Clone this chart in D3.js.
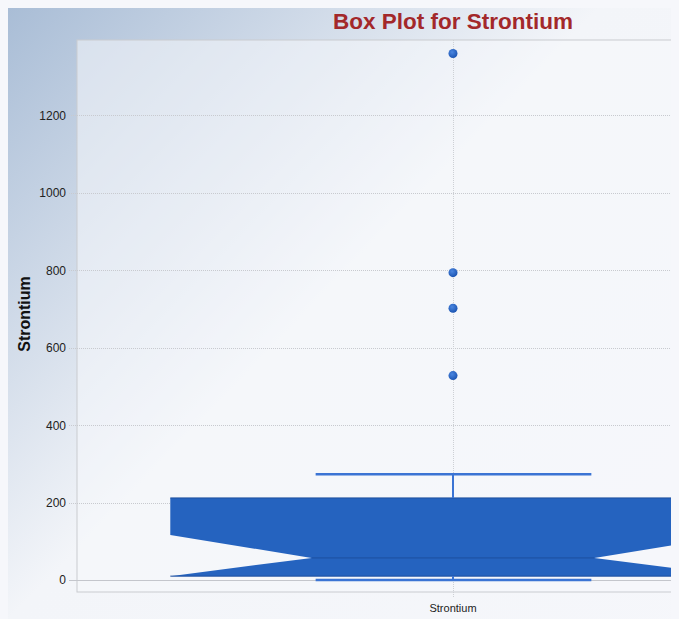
<!DOCTYPE html>
<html><head><meta charset="utf-8">
<script src="https://cdn.jsdelivr.net/npm/d3@7"></script>
<style>html,body{margin:0;padding:0;background:#f6f7fb;overflow:hidden}svg{display:block}</style>
</head><body>
<script>
// ---- data ----
const categories = ["Strontium"];
const q1 = [10];
const median = [57];
const q3 = [212];
const whiskerLow = [0];
const whiskerHigh = [273];
const notchLow = [-2];
const notchHigh = [116];
const outliers = [[528, 702, 794, 1360]];
const yTicks = [0, 200, 400, 600, 800, 1000, 1200];
const titleText = "Box Plot for Strontium";
const yLabel = "Strontium";

const W = 679, H = 619;
const svg = d3.select("body").append("svg").attr("width", W).attr("height", H);
const defs = svg.append("defs");

const bg = defs.append("linearGradient").attr("id", "bg").attr("x1", "0").attr("y1", "0").attr("x2", "1").attr("y2", "0.75");
bg.append("stop").attr("offset", "0").attr("stop-color", "#a9bdd6");
bg.append("stop").attr("offset", "0.42").attr("stop-color", "#f3f5f9");
bg.append("stop").attr("offset", "1").attr("stop-color", "#f6f7fb");

const rg = defs.append("radialGradient").attr("id", "pt").attr("cx", "0.4").attr("cy", "0.35").attr("r", "0.65");
rg.append("stop").attr("offset", "0").attr("stop-color", "#4a86e0");
rg.append("stop").attr("offset", "1").attr("stop-color", "#1c55b3");

defs.append("clipPath").attr("id", "panelClip").append("rect")
  .attr("x", 8).attr("y", 8).attr("width", 663).attr("height", H);

// panel (chart is wider than viewport, clipped at right)
const panel = svg.append("g").attr("clip-path", "url(#panelClip)");
panel.append("rect").attr("x", 8).attr("y", 8).attr("width", 900).attr("height", 700).attr("fill", "url(#bg)");

const m = {left: 77, top: 40, right: 829, bottom: 592};

const y = d3.scaleLinear().domain([-31, 1395]).range([m.bottom, m.top]);
const x = d3.scaleBand().domain(categories).range([m.left, m.right]).paddingInner(0).paddingOuter(0.165);

// plot background
panel.append("rect").attr("x", m.left).attr("y", m.top).attr("width", m.right - m.left).attr("height", m.bottom - m.top)
  .attr("fill", "#f6f7fb").attr("fill-opacity", 0.55).attr("stroke", "#c9cbd0");

// y grid + ticks
const yAxis = d3.axisLeft(y).tickValues(yTicks).tickFormat(d3.format("d")).tickSize(0).tickPadding(11);
const ga = panel.append("g").attr("transform", `translate(${m.left},0)`).call(yAxis);
ga.select(".domain").remove();
ga.selectAll("text").attr("font-family", "Liberation Sans, Arial, sans-serif").attr("font-size", 12).attr("fill", "#222");

panel.append("g").selectAll("line").data(yTicks).join("line")
  .attr("x1", m.left - 8).attr("x2", m.right).attr("y1", d => Math.round(y(d)) + 0.5).attr("y2", d => Math.round(y(d)) + 0.5)
  .attr("stroke", d => d === 0 ? "#c4c6cc" : "#c8cacf")
  .attr("stroke-dasharray", d => d === 0 ? null : "1,1");
panel.append("line").attr("x1", m.left).attr("x2", m.right).attr("y1", Math.round(y(0)) + 0.5).attr("y2", Math.round(y(0)) + 0.5)
  .attr("stroke", "#c4c6cc");

// x gridline + label
categories.forEach((c, i) => {
  const cx = x(c) + x.bandwidth() / 2;
  panel.append("line").attr("x1", cx + 0.5).attr("x2", cx + 0.5).attr("y1", m.top).attr("y2", m.bottom + 6)
    .attr("stroke", "#cdd0d5").attr("stroke-dasharray", "1,1");
});
const xAxis = d3.axisBottom(x).tickSize(0).tickPadding(12);
const gx = panel.append("g").attr("transform", `translate(0,${m.bottom})`).call(xAxis);
gx.select(".domain").remove();
gx.selectAll("text").attr("font-family", "Liberation Sans, Arial, sans-serif").attr("font-size", 11).attr("fill", "#222");

// boxes
const blue = "#2563bf";
categories.forEach((c, i) => {
  const bx0 = x(c), bx1 = x(c) + x.bandwidth(), cx = (bx0 + bx1) / 2;
  const bw = bx1 - bx0;
  const nx0 = cx - bw / 4, nx1 = cx + bw / 4;
  const nLo = Math.max(notchLow[i], q1[i]), nHi = Math.min(notchHigh[i], q3[i]);
  const pts = [
    [bx0, y(q3[i])], [bx1, y(q3[i])], [bx1, y(nHi)], [nx1, y(median[i])], [bx1, y(nLo)],
    [bx1, y(q1[i])], [bx0, y(q1[i])], [bx0, y(nLo)], [nx0, y(median[i])], [bx0, y(nHi)]
  ];
  panel.append("path").attr("d", d3.line()(pts) + "Z").attr("fill", blue);
  panel.append("line").attr("x1", nx0).attr("x2", nx1).attr("y1", y(median[i])).attr("y2", y(median[i]))
    .attr("stroke", "#1d4f9e").attr("stroke-width", 1);
  panel.append("line").attr("x1", bx0).attr("x2", bx1).attr("y1", y(q3[i])).attr("y2", y(q3[i]))
    .attr("stroke", "#1d4f9e").attr("stroke-width", 1);
  panel.append("line").attr("x1", bx0).attr("x2", bx1).attr("y1", y(q1[i])).attr("y2", y(q1[i]))
    .attr("stroke", "#1d4f9e").attr("stroke-width", 1);
  // whiskers
  const wc = "#3b74d4";
  panel.append("line").attr("x1", cx).attr("x2", cx).attr("y1", y(q3[i])).attr("y2", y(whiskerHigh[i])).attr("stroke", wc).attr("stroke-width", 2);
  panel.append("line").attr("x1", cx).attr("x2", cx).attr("y1", y(q1[i])).attr("y2", y(whiskerLow[i])).attr("stroke", wc).attr("stroke-width", 2);
  panel.append("line").attr("x1", nx0 + 4).attr("x2", nx1 - 3).attr("y1", y(whiskerHigh[i])).attr("y2", y(whiskerHigh[i])).attr("stroke", wc).attr("stroke-width", 2.5);
  panel.append("line").attr("x1", nx0 + 4).attr("x2", nx1 - 3).attr("y1", y(whiskerLow[i])).attr("y2", y(whiskerLow[i])).attr("stroke", wc).attr("stroke-width", 2.5);
  // outliers
  panel.append("g").selectAll("circle").data(outliers[i]).join("circle")
    .attr("cx", cx).attr("cy", d => y(d)).attr("r", 4.5).attr("fill", "url(#pt)");
  // title centered on plot
  panel.append("text").attr("x", cx).attr("y", 29).attr("text-anchor", "middle")
    .attr("font-family", "Liberation Sans, Arial, sans-serif").attr("font-weight", "bold").attr("font-size", 22.5)
    .attr("fill", "#a3282a").text(titleText);
});

// y label
panel.append("text").attr("transform", `translate(30,${(m.top + m.bottom) / 2 - 2}) rotate(-90)`)
  .attr("text-anchor", "middle").attr("font-family", "Liberation Sans, Arial, sans-serif")
  .attr("font-weight", "bold").attr("font-size", 16).attr("fill", "#111").text(yLabel);
</script>
</body></html>
